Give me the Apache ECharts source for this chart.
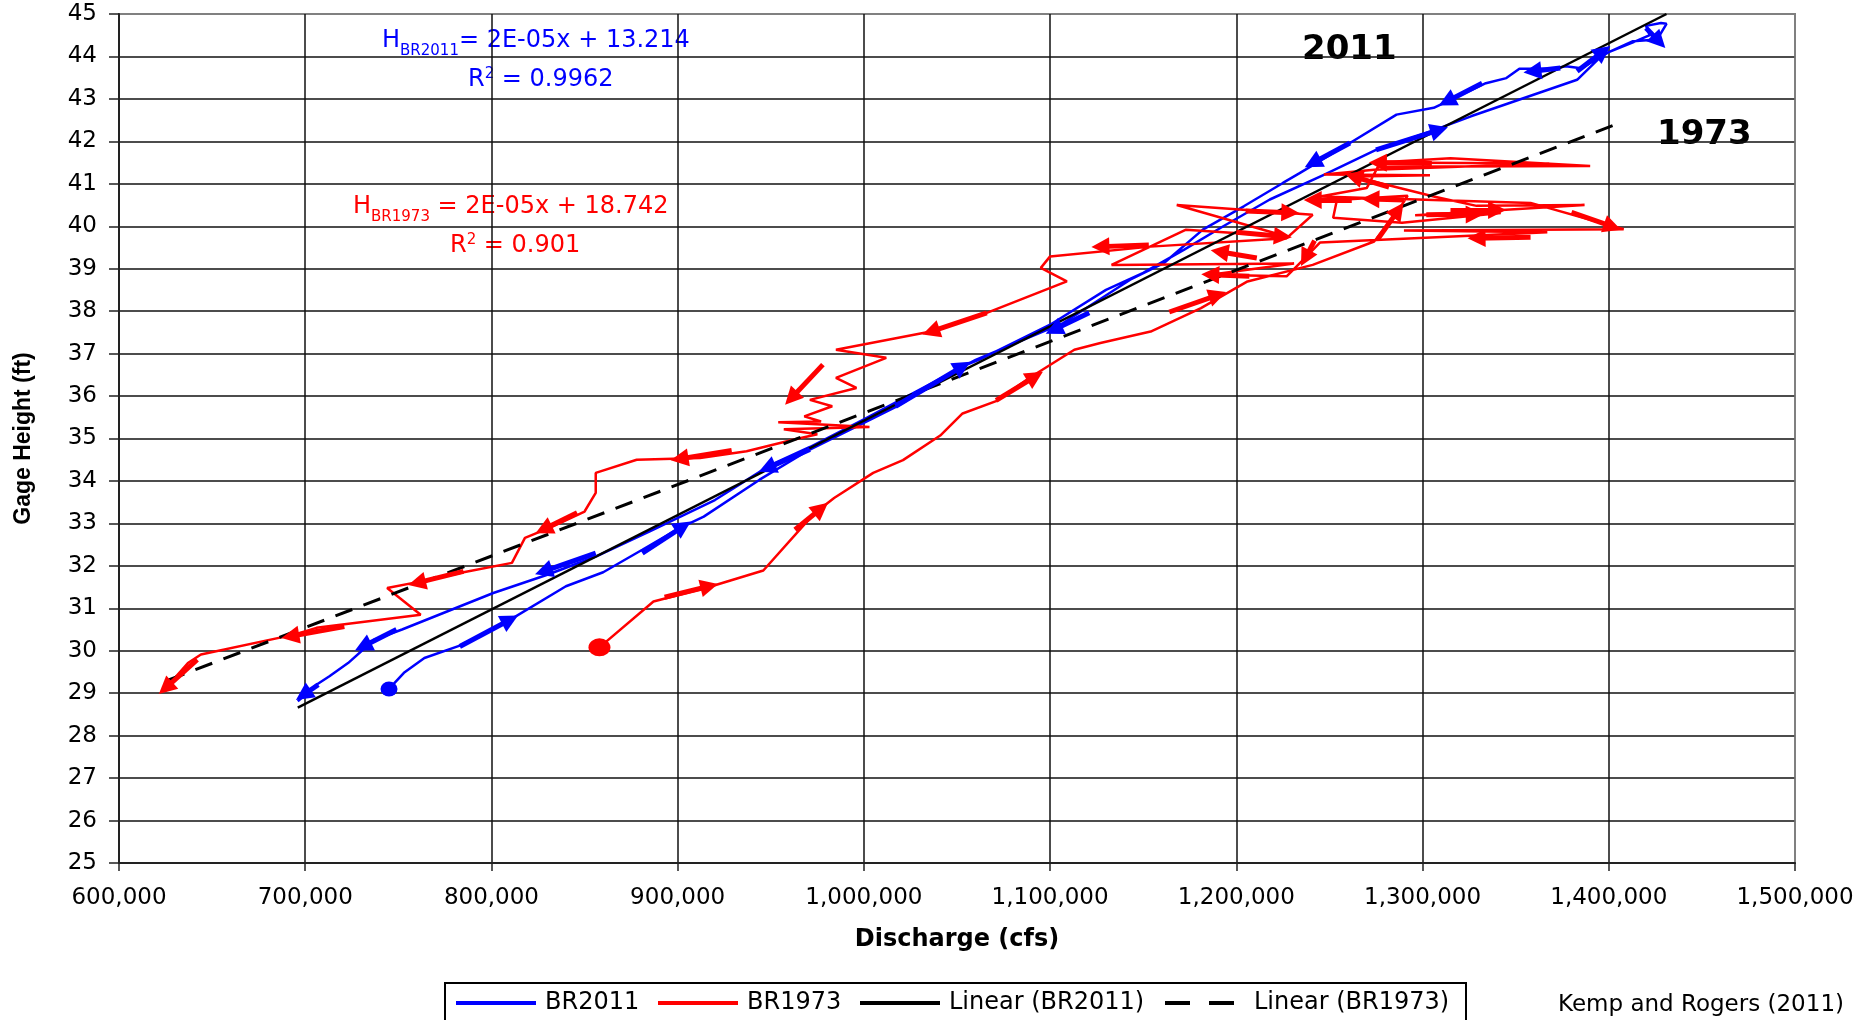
<!DOCTYPE html>
<html><head><meta charset="utf-8">
<script src="https://cdn.jsdelivr.net/npm/echarts@6/dist/echarts.min.js"></script>
<style>html,body{margin:0;padding:0;background:#fff}#c{width:1864px;height:1020px}</style>
</head><body><div id="c"></div>
<script>
// ---- axis ticks ----
const xTicks = [600000, 700000, 800000, 900000, 1000000, 1100000, 1200000, 1300000, 1400000, 1500000];
const yTicks = [25,26,27,28,29,30,31,32,33,34,35,36,37,38,39,40,41,42,43,44,45];

// ---- BR2011 (discharge cfs, gage height ft) ----
const blueX = [745000, 753000, 764000, 783000, 807000, 840000, 860000, 881000, 901000, 914000,
  944000, 971000, 1000000, 1018000, 1053000, 1062000, 1100000, 1130000, 1150000, 1172000,
  1193000, 1218000, 1247000, 1275000, 1304000, 1326000, 1383000, 1397000, 1413000, 1422000,
  1420000, 1428000, 1431000, 1426000, 1413000, 1400000, 1385000, 1377000, 1370000, 1352000,
  1345000, 1334000, 1306000, 1286000, 1261000, 1234000, 1225000, 1204000, 1182000, 1161000,
  1143000, 1107000, 1060000, 1000000, 971000, 950000, 920000, 885000, 856000, 830000,
  801000, 752000, 737000, 723000, 713000, 706000, 701000, 696000];
const blueY = [29.10, 29.48, 29.83, 30.12, 30.65, 31.52, 31.85, 32.38, 32.89, 33.16,
  34.03, 34.74, 35.37, 35.76, 36.70, 36.86, 37.68, 38.50, 38.90, 39.45,
  40.00, 40.63, 41.21, 41.80, 42.23, 42.59, 43.45, 44.05, 44.33, 44.50,
  44.72, 44.79, 44.77, 44.40, 44.36, 44.10, 43.72, 43.77, 43.71, 43.71,
  43.49, 43.37, 42.79, 42.63, 41.96, 41.25, 41.02, 40.47, 39.92, 39.13,
  38.74, 37.72, 36.85, 35.45, 34.80, 34.38, 33.55, 32.81, 32.22, 31.79,
  31.36, 30.50, 30.26, 29.71, 29.40, 29.20, 29.00, 28.81];

// ---- BR1973 ----
const redX = [858000, 887000, 916000, 946000, 973000, 984000, 1005000, 1021000, 1041000, 1053000,
  1071000, 1089000, 1113000, 1127000, 1154000, 1181000, 1206000, 1241000, 1274000, 1286000,
  1292000, 1254000, 1252000, 1289000, 1342000, 1296000, 1387000, 1329000, 1306000, 1263000,
  1304000, 1247000, 1274000, 1368000, 1276000, 1315000, 1390000, 1276000, 1270000, 1245000,
  1358000, 1408000, 1290000, 1367000, 1245000, 1238000, 1227000, 1186000, 1231000, 1133000,
  1173000, 1227000, 1168000, 1241000, 1227000, 1154000,
  1100000, 1095000, 1109000, 1066000, 1036000, 985000, 1012000, 985000, 996000, 971000,
  983000, 968000, 977000, 954000, 1003000, 957000, 975000, 962000, 937000, 912000,
  878000, 856000, 856000, 850000, 833000, 818000, 811000, 785000, 763000, 744000,
  762000, 706000, 694000, 644000, 637000, 626000];
const redY = [30.08, 31.16, 31.49, 31.89, 33.22, 33.60, 34.19, 34.49, 35.07, 35.59,
  35.88, 36.43, 37.09, 37.25, 37.52, 38.07, 38.70, 39.09, 39.64, 40.30,
  40.72, 40.62, 40.20, 40.08, 40.31, 40.26, 40.50, 40.48, 40.70, 41.17,
  41.20, 41.22, 41.33, 41.48, 41.50, 41.60, 41.42, 41.40, 40.90, 40.70,
  40.55, 39.93, 39.90, 39.86, 39.62, 39.30, 38.82, 38.86, 39.12, 39.09,
  39.92, 39.76, 40.50, 40.27, 39.72, 39.52,
  39.29, 39.02, 38.70, 37.96, 37.52, 37.09, 36.90, 36.43, 36.19, 35.91,
  35.76, 35.52, 35.40, 35.38, 35.27, 35.22, 35.10, 34.97, 34.70, 34.54,
  34.50, 34.19, 33.72, 33.28, 32.93, 32.66, 32.07, 31.85, 31.64, 31.48,
  30.85, 30.54, 30.38, 29.91, 29.71, 29.16];

// ---- linear trend lines (end points) ----
const trend2011X = [696000, 1431000];
const trend2011Y = [28.66, 45.00];
const trend1973X = [626000, 1408000];
const trend1973Y = [29.30, 42.47];

// ---- direction arrows [fromX, fromY, toX, toY] ----
const blueArrows = [
  [783000,30.10,810000,30.73],[881000,32.30,903000,32.93],[1017000,35.76,1053000,36.70],
  [1275000,41.80,1309000,42.27],[1383000,43.65,1397000,44.12],[1420000,44.67,1427000,44.35],
  [1374000,43.73,1359000,43.65],[1332000,43.37,1313000,42.94],[1261000,41.96,1241000,41.49],
  [1121000,37.96,1102000,37.56],[971000,34.74,948000,34.30],[856000,32.30,828000,31.87],
  [749000,30.50,731000,30.10],[707000,29.20,699000,28.96]];
const redArrows = [
  [893000,31.26,917000,31.52],[963000,32.85,977000,33.35],[1071000,35.90,1092000,36.46],
  [1164000,37.98,1190000,38.38],[1276000,39.70,1287000,40.38],[1305000,41.48,1276000,41.50],
  [1282000,40.92,1263000,41.17],[1262000,40.62,1241000,40.62],[1290000,40.62,1272000,40.64],
  [1205000,40.36,1229000,40.32],[1200000,39.86,1225000,39.76],[1153000,39.56,1127000,39.52],
  [1211000,39.25,1191000,39.40],[1207000,38.82,1186000,38.86],[1242000,39.66,1237000,39.25],
  [1302000,40.27,1328000,40.28],[1315000,40.38,1340000,40.38],[1380000,40.33,1402000,39.99],
  [1358000,39.74,1329000,39.72],[1066000,37.96,1036000,37.52],[978000,36.74,961000,35.95],
  [929000,34.72,901000,34.52],[846000,33.25,828000,32.86],[785000,31.87,760000,31.60],
  [721000,30.57,692000,30.34],[642000,29.79,625000,29.12]];

const seriesNames = ['BR2011', 'BR1973', 'Linear (BR2011)', 'Linear (BR1973)'];

const zip = (xs, ys) => xs.map((x, i) => [x, ys[i]]);
const arrowData = arr => arr.map(a => [{coord: [a[0], a[1]]}, {coord: [a[2], a[3]]}]);
const fmt = v => String(v).replace(/\B(?=(\d{3})+(?!\d))/g, ',');
// grid lines black, but the outer frame (last line) grey as in the original
const gridColors = ticks => ticks.map((t, i) => (i === ticks.length - 1 ? '#808080' : '#111'));

const chart = echarts.init(document.getElementById('c'), null, {renderer: 'canvas'});
const FONT = 'DejaVu Sans';

function legendAt(name, left, dash) {
  return {
    data: [name], left: left, top: 991, padding: 0, itemWidth: 80, itemHeight: 14,
    selectedMode: false,
    itemStyle: {opacity: 0, borderWidth: 0},
    lineStyle: dash ? {width: 4, type: dash} : {width: 4},
    textStyle: {fontFamily: FONT, fontSize: 24, color: '#000', padding: [0, 0, 0, 4]}
  };
}

function arrowMark(color, arr) {
  return {silent: true, animation: false, symbol: ['none', 'triangle'], symbolSize: 18,
    label: {show: false}, emphasis: {disabled: true},
    itemStyle: {color: color},
    lineStyle: {color: color, width: 5, type: 'solid', opacity: 1}, data: arrowData(arr)};
}

chart.setOption({
  animation: false,
  backgroundColor: '#fff',
  grid: {left: 119, right: 69, top: 14, bottom: 157, show: true, borderColor: '#808080',
         borderWidth: 2, containLabel: false, outerBoundsMode: 'none'},
  xAxis: {
    type: 'value', min: xTicks[0], max: xTicks[xTicks.length - 1], interval: xTicks[1] - xTicks[0],
    name: 'Discharge (cfs)', nameLocation: 'middle', nameGap: 65, nameMoveOverlap: false,
    nameTextStyle: {fontFamily: FONT, fontWeight: 'bold', fontSize: 24, color: '#000'},
    axisLine: {show: true, lineStyle: {color: '#222', width: 2}},
    axisTick: {show: true, inside: false, length: 8, lineStyle: {color: '#222', width: 1.5}},
    axisLabel: {margin: 24, fontFamily: FONT, fontSize: 23, color: '#000', formatter: v => fmt(v)},
    splitLine: {show: true, lineStyle: {color: gridColors(xTicks), width: 1.5}}
  },
  yAxis: {
    type: 'value', min: yTicks[0], max: yTicks[yTicks.length - 1], interval: yTicks[1] - yTicks[0],
    name: 'Gage Height (ft)', nameLocation: 'middle', nameGap: 84, nameMoveOverlap: false,
    nameTextStyle: {fontFamily: 'Liberation Sans', fontWeight: 'bold', fontSize: 23, color: '#000'},
    axisLine: {show: true, lineStyle: {color: '#222', width: 2}},
    axisTick: {show: true, inside: false, length: 10, lineStyle: {color: '#222', width: 1.5}},
    axisLabel: {margin: 22, fontFamily: FONT, fontSize: 23, color: '#000'},
    splitLine: {show: true, lineStyle: {color: gridColors(yTicks), width: 1.5}}
  },
  legend: [
    legendAt(seriesNames[0], 454),
    legendAt(seriesNames[1], 656),
    legendAt(seriesNames[2], 858),
    legendAt(seriesNames[3], 1163, [25, 19])
  ],
  series: [
    {
      name: seriesNames[0], type: 'line', data: zip(blueX, blueY), symbol: 'none', showSymbol: false, z: 3,
      lineStyle: {color: '#0000ff', width: 2.5}, itemStyle: {color: '#0000ff'},
      markLine: arrowMark('#0000ff', blueArrows)
    },
    {
      name: seriesNames[1], type: 'line', data: zip(redX, redY), symbol: 'none', showSymbol: false, z: 3,
      lineStyle: {color: '#ff0000', width: 2.5}, itemStyle: {color: '#ff0000'},
      markLine: arrowMark('#ff0000', redArrows)
    },
    {
      name: seriesNames[2], type: 'line', data: zip(trend2011X, trend2011Y), symbol: 'none', showSymbol: false, z: 4,
      lineStyle: {color: '#000', width: 2.5}, itemStyle: {color: '#000'}
    },
    {
      name: seriesNames[3], type: 'line', data: zip(trend1973X, trend1973Y), symbol: 'none', showSymbol: false, z: 4,
      lineStyle: {color: '#000', width: 3, type: [18, 12]}, itemStyle: {color: '#000'}
    },
    {
      name: 'start2011', type: 'scatter', data: [[blueX[0], blueY[0]]], symbol: 'circle',
      symbolSize: [17, 15], itemStyle: {color: '#0000ff', opacity: 1}, z: 5, silent: true
    },
    {
      name: 'start1973', type: 'scatter', data: [[redX[0], redY[0]]], symbol: 'circle',
      symbolSize: [22, 18], itemStyle: {color: '#ff0000', opacity: 1}, z: 5, silent: true
    }
  ],
  graphic: [
    {type: 'rect', silent: true, shape: {x: 445, y: 983, width: 1021, height: 60},
     style: {fill: 'none', stroke: '#000', lineWidth: 2}},
    {type: 'text', left: 382, top: 29, silent: true, style: {
      text: '{a|H}{b|BR2011}{a|= 2E-05x + 13.214}', fill: '#0000ff',
      rich: {a: {fontFamily: FONT, fontSize: 24, lineHeight: 30, verticalAlign: 'top', fill: '#0000ff'},
             b: {fontFamily: FONT, fontSize: 15, lineHeight: 16, verticalAlign: 'top', padding: [15, 0, 0, 0], fill: '#0000ff'}}}},
    {type: 'text', left: 468, top: 60, silent: true, style: {
      text: '{a|R}{s|2}{a| = 0.9962}', fill: '#0000ff',
      rich: {a: {fontFamily: FONT, fontSize: 24, lineHeight: 30, verticalAlign: 'top', padding: [8, 0, 0, 0], fill: '#0000ff'},
             s: {fontFamily: FONT, fontSize: 15, lineHeight: 16, verticalAlign: 'top', padding: [7, 0, 0, 0], fill: '#0000ff'}}}},
    {type: 'text', left: 353, top: 195, silent: true, style: {
      text: '{a|H}{b|BR1973}{a| = 2E-05x + 18.742}', fill: '#ff0000',
      rich: {a: {fontFamily: FONT, fontSize: 24, lineHeight: 30, verticalAlign: 'top', fill: '#ff0000'},
             b: {fontFamily: FONT, fontSize: 15, lineHeight: 16, verticalAlign: 'top', padding: [15, 0, 0, 0], fill: '#ff0000'}}}},
    {type: 'text', left: 450, top: 226, silent: true, style: {
      text: '{a|R}{s|2}{a| = 0.901}', fill: '#ff0000',
      rich: {a: {fontFamily: FONT, fontSize: 24, lineHeight: 30, verticalAlign: 'top', padding: [8, 0, 0, 0], fill: '#ff0000'},
             s: {fontFamily: FONT, fontSize: 15, lineHeight: 16, verticalAlign: 'top', padding: [7, 0, 0, 0], fill: '#ff0000'}}}},
    {type: 'text', left: 1302, top: 30, silent: true, style: {
      text: '2011', fill: '#000', font: 'bold 34px "DejaVu Sans"', lineHeight: 40}},
    {type: 'text', left: 1657, top: 115, silent: true, style: {
      text: '1973', fill: '#000', font: 'bold 34px "DejaVu Sans"', lineHeight: 40}},
    {type: 'text', left: 1558, top: 991, silent: true, style: {
      text: 'Kemp and Rogers (2011)', fill: '#000', font: '23px "DejaVu Sans"', lineHeight: 28}}
  ]
});
</script>
</body></html>
